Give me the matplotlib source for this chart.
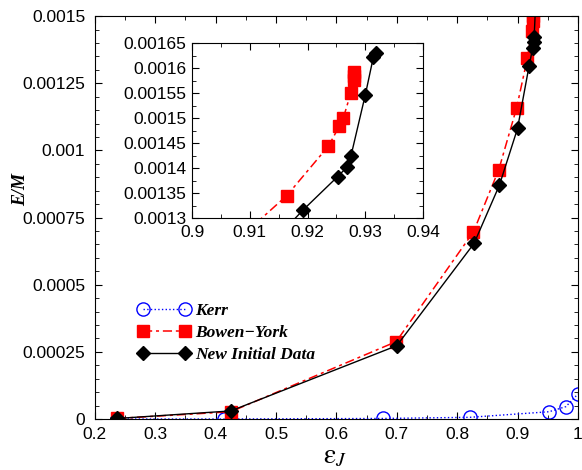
import numpy as np
import matplotlib
matplotlib.use("Agg")
import matplotlib.pyplot as plt
from matplotlib.ticker import MultipleLocator, FormatStrFormatter

plt.rcParams['font.family'] = ['Liberation Sans', 'DejaVu Sans']
plt.rcParams['mathtext.fontset'] = 'stix'

# Kerr sequence
kerr_x = [0.236, 0.414, 0.677, 0.821, 0.952, 0.980, 1.0]
kerr_y = [0.0, 0.0, 0.000002, 0.0000063, 0.000027, 0.000046, 0.000093]

# Bowen-York sequence
by_x = [0.237, 0.425, 0.699, 0.827, 0.869, 0.8985, 0.9164, 0.9236, 0.9255,
        0.9262, 0.9275, 0.9280, 0.9281, 0.9281]
by_y = [0.000002, 0.000027, 0.000288, 0.000697, 0.000929, 0.001159, 0.001345,
        0.001444, 0.001484, 0.001501, 0.001551, 0.001576, 0.001585, 0.001593]

# New initial data sequence
new_x = [0.237, 0.425, 0.700, 0.828, 0.870, 0.900, 0.9192, 0.9252, 0.9269,
         0.9275, 0.9300, 0.9314, 0.9318]
new_y = [0.000002, 0.00003, 0.000273, 0.000654, 0.000871, 0.001082, 0.001316,
         0.001383, 0.001403, 0.001424, 0.001547, 0.001623, 0.001631]

W, H = 582, 470
fig = plt.figure(figsize=(W / 100, H / 100), dpi=100)
ax = fig.add_axes([0.163, 0.1085, 0.830, 0.857])

red_ls = (0, (6, 2.5, 2, 2.5))


def draw_series(a):
    a.plot(kerr_x, kerr_y, color='blue', ls=':', lw=1, marker='o', ms=9.5,
           mfc='none', mec='blue', mew=1, label='Kerr')
    a.plot(by_x, by_y, color='red', ls=red_ls, lw=1.1, marker='s', ms=8.5,
           mfc='red', mec='red', label='Bowen\u2212York')
    a.plot(new_x, new_y, color='black', ls='-', lw=1, marker='D', ms=7.5,
           mfc='black', mec='black', label='New Initial Data')


def style_ticks(a, size):
    a.tick_params(which='both', direction='in', top=True, right=True,
                  labelsize=size)
    a.tick_params(which='major', length=5)
    a.tick_params(which='minor', length=3)
    a.tick_params(axis='y', pad=7)
    a.tick_params(axis='x', pad=6)


draw_series(ax)
ax.set_xlim(0.2, 1.0)
ax.set_ylim(0, 0.0015)
ax.xaxis.set_major_locator(MultipleLocator(0.1))
ax.xaxis.set_minor_locator(MultipleLocator(0.05))
ax.yaxis.set_major_locator(MultipleLocator(0.00025))
ax.yaxis.set_minor_locator(MultipleLocator(0.00005))
ax.xaxis.set_major_formatter(FormatStrFormatter('%g'))
ax.yaxis.set_major_formatter(FormatStrFormatter('%g'))
style_ticks(ax, 12.5)

# axis labels placed where the reference has them
fig.text(335 / W, 1 - 456 / H, r'$\mathrm{\varepsilon}_J$', fontsize=20,
         ha='center', va='center')
fig.text(21 / W, 1 - 189 / H, 'E/M', fontsize=13, family='Liberation Serif',
         fontweight='bold', fontstyle='italic', rotation=90,
         ha='center', va='center')

leg = ax.legend(loc='upper left', bbox_to_anchor=(0.075, 0.305), numpoints=2,
                frameon=False, handlelength=3.0, handletextpad=0.3,
                labelspacing=0.32, borderaxespad=0,
                prop={'family': 'Liberation Serif', 'weight': 'bold',
                      'style': 'italic', 'size': 12.5})

# inset zoom on the near-extremal region
axin = fig.add_axes([0.330, 0.536, 0.397, 0.372])
draw_series(axin)
axin.set_xlim(0.9, 0.94)
axin.set_ylim(0.0013, 0.00165)
axin.xaxis.set_major_locator(MultipleLocator(0.01))
axin.xaxis.set_minor_locator(MultipleLocator(0.005))
axin.yaxis.set_major_locator(MultipleLocator(0.00005))
axin.yaxis.set_minor_locator(MultipleLocator(0.000025))
axin.xaxis.set_major_formatter(FormatStrFormatter('%g'))
axin.yaxis.set_major_formatter(FormatStrFormatter('%g'))
style_ticks(axin, 12.5)
axin.tick_params(axis='y', pad=4)
axin.tick_params(axis='x', pad=5)

plt.savefig('out.png', dpi=100)
